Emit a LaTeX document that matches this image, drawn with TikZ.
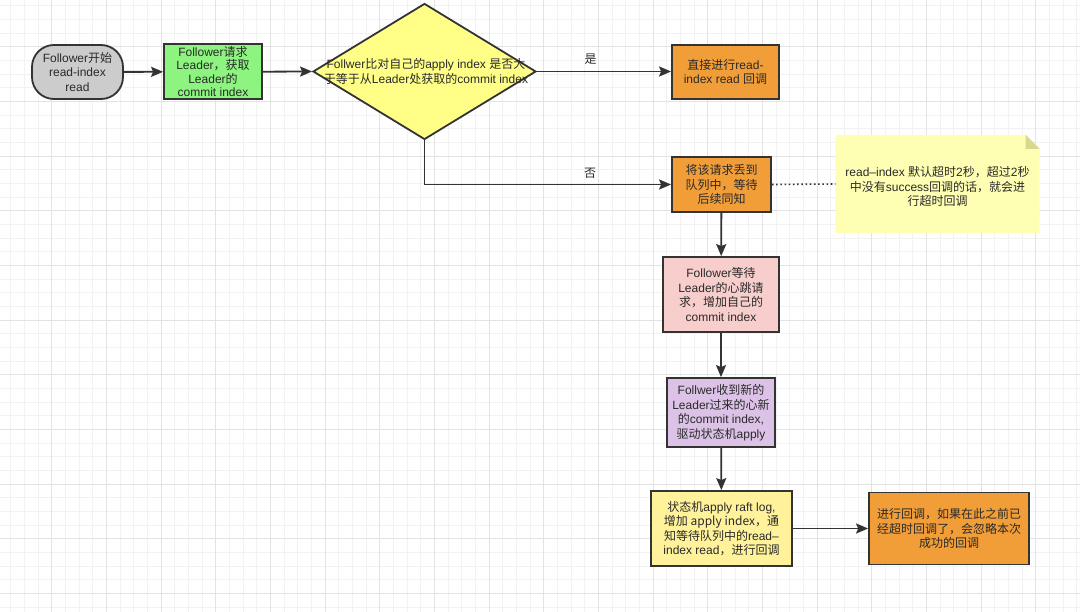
\documentclass[tikz,border=0pt]{standalone}
\usepackage{fontspec}
\usetikzlibrary{arrows.meta,shapes.geometric,calc}
\setmainfont{Liberation Sans}
\newfontfamily\cjkfont{Noto Sans CJK SC}
% switch to the CJK face automatically for Han characters and fullwidth punctuation
\XeTeXinterchartokenstate=1
\newXeTeXintercharclass\HanCls
\makeatletter
\def\setHanRange#1#2{\count@=#1\relax
  \loop\XeTeXcharclass\count@=\HanCls\relax
  \ifnum\count@<#2\relax\advance\count@ 1\repeat}
\makeatother
\setHanRange{"3000}{"303F}
\setHanRange{"4E00}{"9FFF}
\setHanRange{"FF00}{"FFEF}
\XeTeXinterchartoks 0 \HanCls = {\cjkfont}
\XeTeXinterchartoks 4095 \HanCls = {\cjkfont}
\XeTeXinterchartoks \HanCls 0 = {\rmfamily}
\definecolor{linec}{HTML}{333333}
\definecolor{textc}{HTML}{2A2A2A}
\definecolor{gridminor}{HTML}{F2F2F2}
\definecolor{gridmajor}{HTML}{E3E3E3}
\definecolor{greyfill}{HTML}{CCCCCC}
\definecolor{greenfill}{HTML}{8CF47F}
\definecolor{diafill}{HTML}{FFFF88}
\definecolor{orangefill}{HTML}{F19D38}
\definecolor{pinkfill}{HTML}{F8CECC}
\definecolor{purplefill}{HTML}{DCC2E6}
\definecolor{lightyellow}{HTML}{FFF29A}
\definecolor{notefill}{HTML}{FFFFB4}
\definecolor{notefold}{HTML}{D9D98E}
\tikzset{
  txt/.style={align=center, text=textc, font=\fontsize{12}{14.5}\selectfont, inner sep=0},
  tight/.style={font=\fontsize{12}{13.5}\selectfont},
  box/.style={txt, draw=linec, line width=1.8pt},
  arr/.style={draw=linec, line width=1.8pt, -{Stealth[length=12pt,width=10pt,inset=2pt]}},
  lbl/.style={txt}
}
\begin{document}
\begin{tikzpicture}[x=1pt,y=-1pt]
\useasboundingbox (0,0) rectangle (1080,612);
\fill[white] (0,0) rectangle (1080,612);
% background grid
\foreach \i in {0,...,78} \draw[gridminor, line width=0.8pt] ({10.7+13.667*\i},0) -- ++(0,612);
\foreach \i in {0,...,44} \draw[gridminor, line width=0.8pt] (0,{5.7+13.667*\i}) -- ++(1080,0);
\foreach \i in {0,...,20} \draw[gridmajor, line width=0.8pt] ({-3+54.667*\i},0) -- ++(0,612);
\foreach \i in {0,...,10} \draw[gridmajor, line width=0.8pt] (0,{46.7+54.667*\i}) -- ++(1080,0);

% flow nodes
\node[box, fill=greyfill, rounded corners=22pt, minimum width=91pt, minimum height=54pt] (start) at (77.5,72) {Follower开始\\read-index\\read};
\node[box, tight, fill=greenfill, minimum width=98pt, minimum height=55pt] (req) at (213,71.7) {Follower请求\\Leader，获取\\Leader的\\commit index};
\node[box, shape=diamond, fill=diafill, minimum width=223pt, minimum height=136pt] (cmp) at (424.5,71.5) {};
\node[txt] (cmptext) at (426,71.5) {Follwer比对自己的apply index 是否大\\于等于从Leader处获取的commit index};
\node[box, fill=orangefill, minimum width=107pt, minimum height=54pt] (direct) at (725.5,72) {直接进行read-\\index read 回调};
\node[box, fill=orangefill, minimum width=99pt, minimum height=55pt] (queue) at (721.5,184.5) {将该请求丢到\\队列中，等待\\后续同知};
\node[txt, minimum width=204pt, minimum height=98pt] (note) at (937.5,184) {};
\fill[notefill] (note.north west) -- ($(note.north east)+(-14,0)$) -- ($(note.north east)+(0,14)$) -- (note.south east) -- (note.south west) -- cycle;
\fill[notefold] ($(note.north east)+(-14,0)$) -- ($(note.north east)+(-14,14)$) -- ($(note.north east)+(0,14)$) -- cycle;
\node[txt] (notetext) at (937.5,186.5) {read–index 默认超时2秒，超过2秒\\中没有success回调的话，就会进\\行超时回调};
\node[box, fill=pinkfill, minimum width=116pt, minimum height=75pt] (wait) at (721,294.5) {Follower等待\\Leader的心跳请\\求，增加自己的\\commit index};
\node[box, fill=purplefill, minimum width=108pt, minimum height=69pt] (recv) at (721,412.5) {Follwer收到新的\\Leader过来的心新\\的commit index,\\驱动状态机apply};
\node[box, fill=lightyellow, minimum width=141pt, minimum height=75pt] (apply) at (721.5,528.5) {状态机apply raft log,\\增加 apply index，通\\知等待队列中的read–\\index read，进行回调};
\node[box, fill=orangefill, minimum width=160pt, minimum height=72pt] (final) at (949,528.5) {进行回调，如果在此之前已\\经超时回调了，会忽略本次\\成功的回调};

% connectors
\draw[arr] (start) -- (req);
\draw[arr] (req.east) -- (cmp.west);
\draw[arr] (cmp.east) -- node[lbl, pos=0.4, above=6pt] (yes) {是} (cmp.east -| direct.west);
\draw[arr] (cmp.south) |- node[lbl, pos=0.836, above=5pt] (no) {否} (queue.west);
\draw[linec, line width=1.6pt, dash pattern=on 1.6pt off 2.6pt] (queue.east) -- (note.west);
\draw[arr] (queue) -- (wait);
\draw[arr] (wait) -- (recv);
\draw[arr] (recv) -- (apply);
\draw[arr] (apply) -- (final);
\end{tikzpicture}
\end{document}
